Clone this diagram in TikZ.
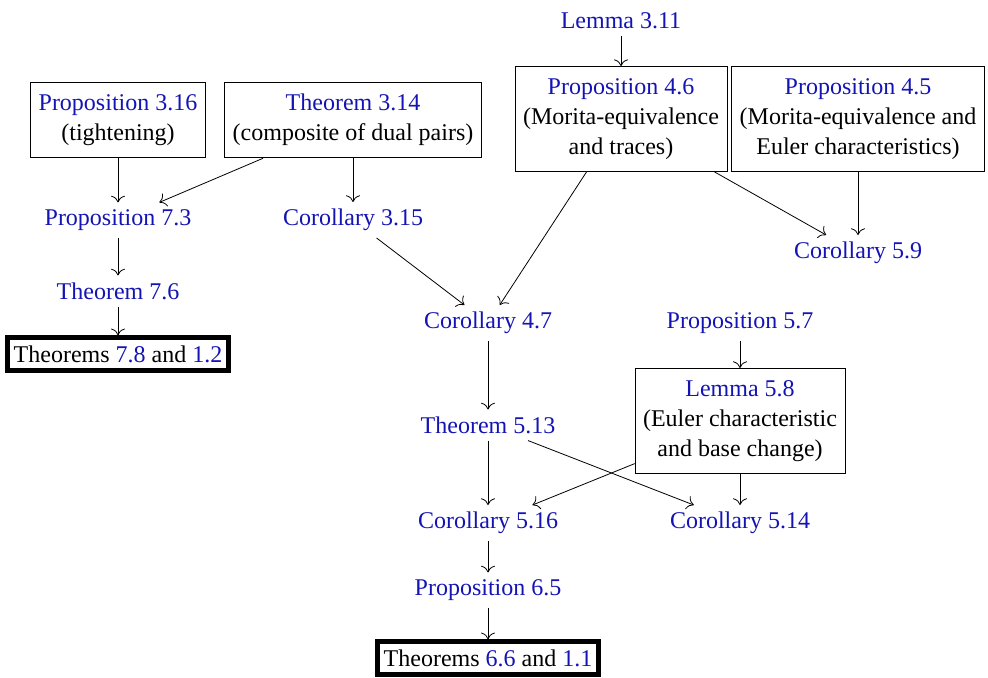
\documentclass[tikz,border=0pt]{standalone}
\usepackage{fontspec}
\setmainfont{Liberation Serif}
\usepackage{xcolor}
\usetikzlibrary{positioning,arrows.meta}
\definecolor{linkblue}{RGB}{20,20,180}
\newcommand{\reflink}[1]{\textcolor{linkblue}{#1}}
\tikzset{
	stmt/.style = {
		font=\fontsize{12}{15}\selectfont, align=center
	}
}
\tikzset{
	statebox/.style = {
		stmt, draw, inner xsep=4pt, inner ysep=6pt
	}
}
\tikzset{
	mainresult/.style = {
		stmt, draw, line width=2.2pt, inner xsep=3pt, inner ysep=4pt
	}
}
\tikzset{
	implies/.style = {
		-{To[scale=1.35]}
	}
}

\begin{document}
\begin{tikzpicture}[x=0.5pt, y=-0.5pt]
	\useasboundingbox (0,0) rectangle (988,678);
	\node[stmt](L311) at (621,21){\reflink{Lemma 3.11}};
	\node[statebox](P46) at (621,119){\reflink{Proposition 4.6}\\(Morita-equivalence\\and traces)};
	\node[statebox](P45) at (858,119){\reflink{Proposition 4.5}\\(Morita-equivalence and\\Euler characteristics)};
	\node[statebox](P316) at (118,120){\reflink{Proposition 3.16}\\(tightening)};
	\node[statebox](T314) at (353,120){\reflink{Theorem 3.14}\\(composite of dual pairs)};
	\node[stmt](P73) at (118,220){\reflink{Proposition 7.3}};
	\node[stmt](C315) at (353,220){\reflink{Corollary 3.15}};
	\node[stmt](C59) at (858,253){\reflink{Corollary 5.9}};
	\node[stmt](T76) at (118,291){\reflink{Theorem 7.6}};
	\node[mainresult](T78) at (118,354){Theorems \reflink{7.8} and \reflink{1.2}};
	\node[stmt](C47) at (488,323){\reflink{Corollary 4.7}};
	\node[stmt](P57) at (740,323){\reflink{Proposition 5.7}};
	\node[statebox](L58) at (740,421){\reflink{Lemma 5.8}\\(Euler characteristic\\and base change)};
	\node[stmt](T513) at (488,425){\reflink{Theorem 5.13}};
	\node[stmt](C516) at (488,523){\reflink{Corollary 5.16}};
	\node[stmt](C514) at (740,523){\reflink{Corollary 5.14}};
	\node[stmt](P65) at (488,590){\reflink{Proposition 6.5}};
	\node[mainresult](T66) at (488,658){Theorems \reflink{6.6} and \reflink{1.1}};
	\draw[implies] (L311) -- (P46);
	\draw[implies] (P316) -- (P73);
	\draw[implies] (T314) -- (P73);
	\draw[implies] (T314) -- (C315);
	\draw[implies] (P73) -- (T76);
	\draw[implies] (T76) -- (T78);
	\draw[implies] (C315) -- (C47);
	\draw[implies] (P46) -- (C47);
	\draw[implies] (P46) -- (C59);
	\draw[implies] (P45) -- (C59);
	\draw[implies] (C47) -- (T513);
	\draw[implies] (P57) -- (L58);
	\draw[implies] (T513) -- (C516);
	\draw[implies] (T513) -- (C514);
	\draw[implies] (L58) -- (C516);
	\draw[implies] (L58) -- (C514);
	\draw[implies] (C516) -- (P65);
	\draw[implies] (P65) -- (T66);
\end{tikzpicture}
\end{document}
